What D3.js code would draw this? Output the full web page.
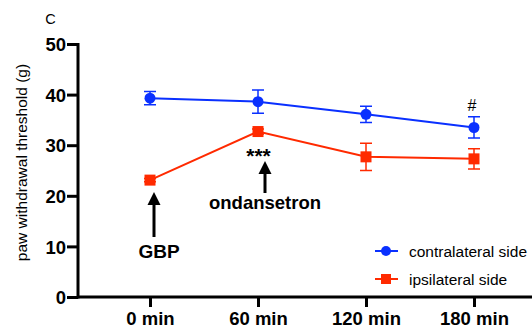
<!DOCTYPE html>
<html><head><meta charset="utf-8">
<script src="https://cdn.jsdelivr.net/npm/d3@7"></script>
<style>html,body{margin:0;padding:0;background:#fff;}svg{display:block;}</style>
</head><body>
<svg id="c" width="532" height="330"></svg>
<script>
const categories = ["0 min", "60 min", "120 min", "180 min"];
const contralateral = [39.3, 38.6, 36.1, 33.5];
const contralateralErr = [1.3, 2.3, 1.6, 2.1];
const ipsilateral = [23.1, 32.7, 27.7, 27.3];
const ipsilateralErr = [0.3, 0.5, 2.7, 2.0];
const yTicks = [0, 10, 20, 30, 40, 50];
const seriesNames = ["contralateral side", "ipsilateral side"];

const svg = d3.select("#c");
const font = "'Liberation Sans', Arial, Helvetica, sans-serif";
const blue = "#0a30ff", red = "#ff2a00";

const y = d3.scaleLinear().domain([0, 50]).range([297, 44]);
const x = d3.scalePoint().domain(categories).range([150, 474]);

// axes
const yAxis = svg.append("g").attr("transform", "translate(78,0)")
  .call(d3.axisLeft(y).tickValues(yTicks).tickSize(11).tickSizeOuter(0).tickPadding(1));
const xAxis = svg.append("g").attr("transform", "translate(0,297)")
  .call(d3.axisBottom(x).tickSize(10).tickSizeOuter(0));
xAxis.select(".domain").attr("d", "M78,0H532");
yAxis.select(".domain").attr("d", "M0,43V298.5");
[yAxis, xAxis].forEach(a => {
  a.selectAll(".domain, .tick line").attr("stroke", "#000").attr("stroke-width", 3);
  a.selectAll("text").attr("font-family", font).attr("font-weight", "bold")
    .attr("font-size", 18.5).attr("fill", "#000");
});
yAxis.selectAll("text").attr("dy", "0.36em");
xAxis.selectAll("text").attr("y", 28).attr("dy", 0);

// y title
svg.append("text").attr("transform", "translate(27,162.5) rotate(-90)")
  .attr("text-anchor", "middle").attr("font-family", font).attr("font-size", 15.5)
  .text("paw withdrawal threshold (g)");
svg.append("text").attr("x", 50.5).attr("y", 24).attr("text-anchor", "middle")
  .attr("font-family", font).attr("font-size", 14.5).text("C");

function drawSeries(vals, errs, color, shape) {
  const g = svg.append("g");
  g.append("path").datum(vals)
    .attr("d", d3.line().x((d, i) => x(categories[i])).y(d => y(d)))
    .attr("fill", "none").attr("stroke", color).attr("stroke-width", 2);
  vals.forEach((v, i) => {
    const cx = x(categories[i]);
    const e = errs[i];
    g.append("path")
      .attr("d", `M${cx},${y(v + e)}V${y(v - e)}M${cx - 6},${y(v + e)}H${cx + 6}M${cx - 6},${y(v - e)}H${cx + 6}`)
      .attr("stroke", color).attr("stroke-width", 1.5).attr("fill", "none");
    if (shape === "circle") {
      g.append("circle").attr("cx", cx).attr("cy", y(v)).attr("r", 5.5).attr("fill", color);
    } else {
      g.append("rect").attr("x", cx - 5.5).attr("y", y(v) - 5.5).attr("width", 11).attr("height", 11).attr("fill", color);
    }
  });
}
drawSeries(contralateral, contralateralErr, blue, "circle");
drawSeries(ipsilateral, ipsilateralErr, red, "square");

// arrows & annotations
function arrow(xc, y1, y2) {
  svg.append("line").attr("x1", xc).attr("x2", xc).attr("y1", y1 + 8).attr("y2", y2)
    .attr("stroke", "#000").attr("stroke-width", 3);
  svg.append("path").attr("d", `M${xc},${y1}L${xc - 6.5},${y1 + 13}L${xc + 6.5},${y1 + 13}Z`).attr("fill", "#000");
}
arrow(x("0 min") + 4, 192, 237);
arrow(x("60 min") + 7, 161, 193);
svg.append("text").attr("x", x("0 min") + 9).attr("y", 258).attr("text-anchor", "middle")
  .attr("font-family", font).attr("font-weight", "bold").attr("font-size", 19).text("GBP");
svg.append("text").attr("x", x("60 min") + 7).attr("y", 209).attr("text-anchor", "middle")
  .attr("font-family", font).attr("font-weight", "bold").attr("font-size", 18.5).text("ondansetron");
svg.append("text").attr("x", x("60 min") + 0.5).attr("y", 163).attr("text-anchor", "middle")
  .attr("font-family", font).attr("font-weight", "bold").attr("font-size", 21).text("***");
svg.append("text").attr("x", x("180 min") - 2).attr("y", 111).attr("text-anchor", "middle")
  .attr("font-family", font).attr("font-size", 16).text("#");

// legend
const leg = [[seriesNames[0], blue, "circle", 251], [seriesNames[1], red, "square", 279]];
leg.forEach(([name, color, shape, ly]) => {
  svg.append("line").attr("x1", 375).attr("x2", 398).attr("y1", ly).attr("y2", ly)
    .attr("stroke", color).attr("stroke-width", 2);
  if (shape === "circle") svg.append("circle").attr("cx", 386).attr("cy", ly).attr("r", 5).attr("fill", color);
  else svg.append("rect").attr("x", 381).attr("y", ly - 5).attr("width", 10).attr("height", 10).attr("fill", color);
  svg.append("text").attr("x", 409).attr("y", ly + 5.5).attr("font-family", font)
    .attr("font-size", 15.5).text(name);
});
</script>
</body></html>
